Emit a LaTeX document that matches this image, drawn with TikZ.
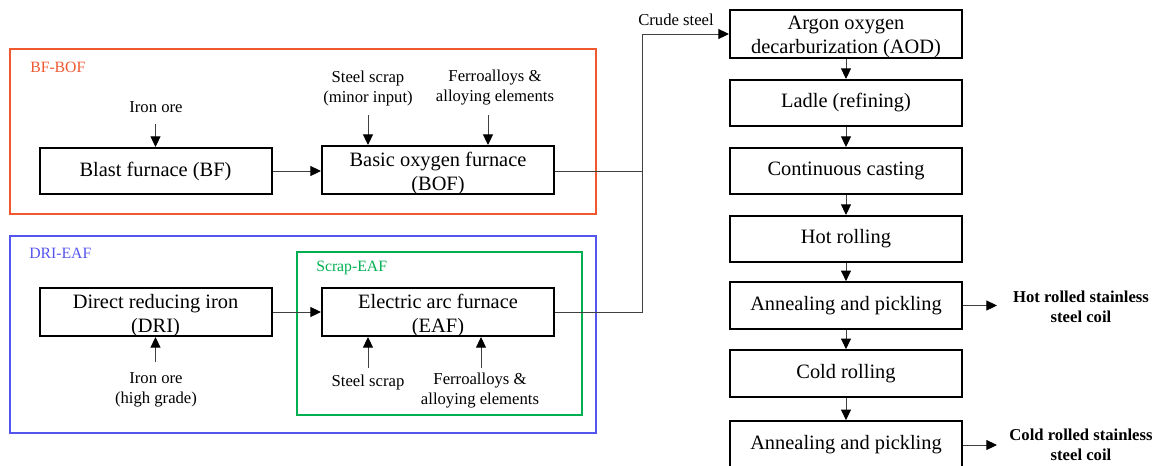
\documentclass[tikz,border=0pt]{standalone}
\usepackage{fontspec}
\setmainfont{Liberation Serif}
\usetikzlibrary{arrows.meta}
\definecolor{orangeR}{RGB}{240,88,48}
\definecolor{blueR}{RGB}{84,84,238}
\definecolor{greenR}{RGB}{0,176,80}
\newcommand\boxtxt[2]{\raisebox{-#1}[\height][\depth]{\begin{tabular}{@{}c@{}}#2\end{tabular}}}
\begin{document}
\begin{tikzpicture}[x=0.75pt,y=-0.75pt,
  box/.style={draw, line width=1.5pt, minimum width=174pt, minimum height=34.5pt, inner sep=0pt, align=center, font=\fontsize{15.3}{18}\selectfont},
  lbl/.style={inner sep=0pt, align=center, font=\fontsize{12.5}{15}\selectfont},
  outlbl/.style={inner sep=0pt, align=center, font=\fontsize{12.5}{15}\selectfont\bfseries},
  region/.style={line width=1.5pt},
  rlabel/.style={inner sep=0pt, anchor=west, font=\fontsize{11.8}{13}\selectfont},
  conn/.style={line width=0.75pt, draw=black!75},
  arr/.style={conn, -{Triangle[length=8pt,width=7.5pt,color=black]}}]
\useasboundingbox (0,0) rectangle (1164,465);

% regions
\draw[region, orangeR] (10,49) rectangle (596,214);
\draw[region, blueR] (10,236) rectangle (596,433);
\draw[region, greenR] (297,252) rectangle (582,415);
\node[rlabel, text=orangeR] (lbfbof) at (30,67) {BF-BOF};
\node[rlabel, text=blueR] (ldrieaf) at (29,253) {DRI-EAF};
\node[rlabel, text=greenR] (lscrap) at (316,268) {Scrap-EAF};

% process boxes (left)
\node[box] (bf) at (155.5,171) {Blast furnace (BF)};
\node[box] (bof) at (438,170) {\boxtxt{3pt}{Basic oxygen furnace\\(BOF)}};
\node[box] (dri) at (155.5,312) {\boxtxt{3pt}{Direct reducing iron\\(DRI)}};
\node[box] (eaf) at (438,312) {\boxtxt{3pt}{Electric arc furnace\\(EAF)}};

% right column
\node[box, minimum height=35pt] (aod) at (846,34) {\boxtxt{2pt}{Argon oxygen\\decarburization (AOD)}};
\node[box] (ladle) at (846,103) {Ladle (refining)};
\node[box] (cc) at (846,171) {Continuous casting};
\node[box] (hr) at (846,239) {Hot rolling};
\node[box, minimum height=35pt] (ap1) at (846,305.5) {Annealing and pickling};
\node[box, minimum height=35pt] (cr) at (846,373.5) {Cold rolling};
\node[box, minimum height=35pt] (ap2) at (846,444.5) {Annealing and pickling};

% input labels
\node[lbl] (ore1) at (156,107) {Iron ore};
\node[lbl] (ss1) at (368,88) {Steel scrap\\(minor input)};
\node[lbl] (fa1) at (495,88) {Ferroalloys \&\\alloying elements};
\node[lbl] (ore2) at (156,390) {Iron ore\\(high grade)};
\node[lbl] (ss2) at (368,382) {Steel scrap};
\node[lbl] (fa2) at (480,391) {Ferroalloys \&\\alloying elements};
\node[lbl] (crude) at (676,20) {Crude steel};
\node[outlbl] (hot) at (1081,307) {Hot rolled stainless\\steel coil};
\node[outlbl] (cold) at (1081,445) {Cold rolled stainless\\steel coil};

% free ends
\coordinate (s_ore1) at (155.5,124);
\coordinate (s_ss1) at (368,115);
\coordinate (s_fa1) at (488,115);
\coordinate (s_ore2) at (155.5,362);
\coordinate (s_ss2) at (368,368);
\coordinate (s_fa2) at (481,368);
\coordinate (bus) at (642,0);
\coordinate (e_hot) at (997,0);

% input arrows
\draw[arr] (s_ore1) -- (s_ore1 |- bf.north);
\draw[arr] (s_ss1) -- (s_ss1 |- bof.north);
\draw[arr] (s_fa1) -- (s_fa1 |- bof.north);
\draw[arr] (s_ore2) -- (s_ore2 |- dri.south);
\draw[arr] (s_ss2) -- (s_ss2 |- eaf.south);
\draw[arr] (s_fa2) -- (s_fa2 |- eaf.south);

% main flow
\draw[arr] (bf) -- (bf -| bof.west);
\draw[arr] (dri) -- (eaf);
\draw[conn] (bof.east |- bf) -- (bus |- bf);
\draw[arr] (eaf.east) -| (bus |- aod.west) -- (aod.west);
\draw[arr] (aod) -- (ladle);
\draw[arr] (ladle) -- (cc);
\draw[arr] (cc) -- (hr);
\draw[arr] (hr) -- (ap1);
\draw[arr] (ap1) -- (cr);
\draw[arr] (cr) -- (ap2);
\draw[arr] (ap1.east) -- (ap1.east -| e_hot);
\draw[arr] (ap2.east |- cold) -- (e_hot |- cold);
\end{tikzpicture}
\end{document}
